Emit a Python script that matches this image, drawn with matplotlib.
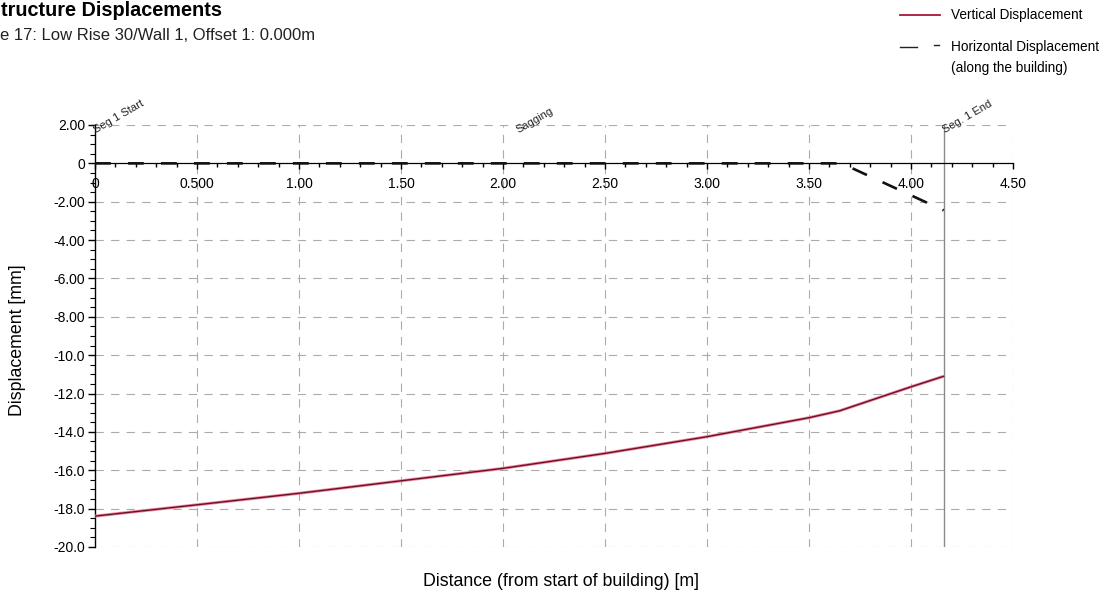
import matplotlib
matplotlib.use("Agg")
import matplotlib.pyplot as plt
from matplotlib.ticker import MultipleLocator, FixedLocator, FixedFormatter

plt.rcParams['font.family'] = ['Liberation Sans', 'DejaVu Sans']

# ---- data ----
vert_x = [0.0, 0.5, 1.0, 1.5, 2.0, 2.5, 3.0, 3.5, 3.65, 4.0, 4.16]
vert_y = [-18.39, -17.8, -17.2, -16.55, -15.9, -15.12, -14.25, -13.26, -12.9, -11.65, -11.1]

horiz_x = [0.0, 3.66, 4.16]
horiz_y = [0.0, 0.0, -2.45]

seg_end_x = 4.16
annot_labels = ["Seg 1 Start", "Sagging", "Seg. 1 End"]
annot_x = [0.0, 2.07, 4.16]

xticks = [0.0, 0.5, 1.0, 1.5, 2.0, 2.5, 3.0, 3.5, 4.0, 4.5]
xtick_labels = ["0", "0.500", "1.00", "1.50", "2.00", "2.50", "3.00", "3.50", "4.00", "4.50"]
yticks = [2, 0, -2, -4, -6, -8, -10, -12, -14, -16, -18, -20]
ytick_labels = ["2.00", "0", "-2.00", "-4.00", "-6.00", "-8.00", "-10.0", "-12.0",
                "-14.0", "-16.0", "-18.0", "-20.0"]

title = "tructure Displacements"
subtitle = "e 17: Low Rise 30/Wall 1, Offset 1: 0.000m"
legend_labels = ["Vertical Displacement", "Horizontal Displacement", "(along the building)"]

# ---- figure ----
W, H = 1107, 610
fig = plt.figure(figsize=(W / 100, H / 100), dpi=100)
fig.patch.set_facecolor('white')
ax = fig.add_axes([95 / W, 1 - 547 / H, (1013 - 95) / W, (547 - 125) / H])

ax.set_xlim(0, 4.5)
ax.set_ylim(-20, 2)

grid_kw = dict(color='#ababab', lw=0.8, linestyle=(0, (7.5, 6.5)), zorder=1)
for xv in xticks[1:]:
    ax.axvline(xv, **grid_kw)
for yv in yticks:
    if yv != 0:
        ax.axhline(yv, **grid_kw)

# seg end line
ax.plot([seg_end_x, seg_end_x], [-20, 2], color='#8a8a8a', lw=1.0, zorder=2)

# curves
ax.plot(vert_x, vert_y, color='#f08aa0', lw=2.2, zorder=3, solid_capstyle='butt')
ax.plot(vert_x, vert_y, color='#6a1028', lw=1.0, zorder=4)
ax.plot(horiz_x, horiz_y, color='#111111', lw=1.9, linestyle=(0, (6, 6.5)), zorder=5)

# spines
for s in ['top', 'right']:
    ax.spines[s].set_visible(False)
ax.spines['bottom'].set_position(('data', 0))
ax.spines['bottom'].set_linewidth(0.9)
ax.spines['left'].set_linewidth(1.0)

ax.xaxis.set_major_locator(FixedLocator(xticks))
ax.xaxis.set_major_formatter(FixedFormatter(xtick_labels))
ax.xaxis.set_minor_locator(MultipleLocator(0.1))
ax.yaxis.set_major_locator(FixedLocator(yticks))
ax.yaxis.set_major_formatter(FixedFormatter(ytick_labels))
ax.yaxis.set_minor_locator(MultipleLocator(0.5))

ax.tick_params(axis='x', which='major', direction='out', length=4, width=1.0,
               pad=6, labelsize=10, colors='black')
ax.tick_params(axis='x', which='minor', direction='out', length=3, width=1.0)
ax.tick_params(axis='y', which='major', direction='out', length=5, width=1.0,
               pad=2, labelsize=10, colors='black')
ax.tick_params(axis='y', which='minor', direction='out', length=3.5, width=0.8)

# annotations
for lab, xv in zip(annot_labels, annot_x):
    ax.text(xv + 0.01, 1.5, lab, rotation=30, rotation_mode='anchor',
            ha='left', va='bottom', fontsize=8, color='#222222', zorder=6)

# axis labels
fig.text(561 / W, 1 - 582 / H, "Distance (from start of building) [m]",
         ha='center', va='center', fontsize=12.8)
fig.text(18 / W, 1 - 340 / H, "Displacement [mm]", rotation=90,
         ha='center', va='center', fontsize=12.8)

# title / subtitle (left part cropped in the reference image)
fig.text(1 / W, 1 - 10 / H, title, ha='left', va='center', fontsize=14.3,
         fontweight='bold')
fig.text(0 / W, 1 - 36 / H, subtitle, ha='left', va='center', fontsize=12,
         color='#222222')

# manual legend
fig.add_artist(plt.Line2D([900 / W, 940 / W], [1 - 15 / H, 1 - 15 / H],
                          color='#a8163a', lw=1.3))
fig.add_artist(plt.Line2D([900 / W, 917 / W], [1 - 47 / H, 1 - 47 / H],
                          color='#222222', lw=1.0))
fig.add_artist(plt.Line2D([934 / W, 939 / W], [1 - 45 / H, 1 - 45 / H],
                          color='#222222', lw=1.0))
fig.text(951 / W, 1 - 15 / H, legend_labels[0], ha='left', va='center', fontsize=9.8)
fig.text(951 / W, 1 - 47 / H, legend_labels[1], ha='left', va='center', fontsize=9.8)
fig.text(951 / W, 1 - 68 / H, legend_labels[2], ha='left', va='center', fontsize=9.8)

fig.savefig("out.png", dpi=100)
